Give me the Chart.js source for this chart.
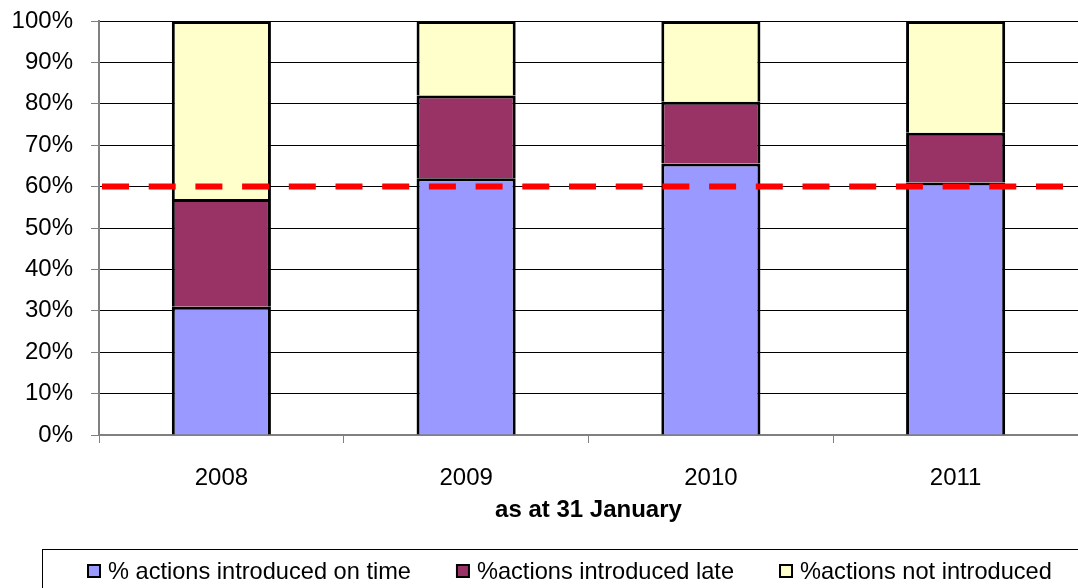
<!DOCTYPE html>
<html>
<head>
<meta charset="utf-8">
<script src="https://cdn.jsdelivr.net/npm/chart.js@4.4.1/dist/chart.umd.min.js"></script>
<style>
    html, body { margin: 0; padding: 0; background: #fff; overflow: hidden; }
    #wrap { width: 1078px; height: 588px; position: relative; }
</style>
</head>
<body>
<div id="wrap"><canvas id="actionsChart"></canvas></div>
<script>
        // data
        const years = ['2008', '2009', '2010', '2011'];
        const onTime = [31, 62, 65.6, 61];
        const lateActions = [26, 20, 14.9, 12];
        const notIntroduced = [43, 18, 19.5, 27];
        const targetValue = 60;
        const yTickStep = 10;

        const FONT = "'Liberation Sans', Arial, sans-serif";

        // red dashed target line across the plot
        const targetLine = {
            id: 'targetLine',
            afterDatasetsDraw(chart) {
                const { ctx, chartArea, scales } = chart;
                const y = scales.y.getPixelForValue(targetValue);
                ctx.save();
                ctx.strokeStyle = '#FF0000';
                ctx.lineWidth = 6;
                ctx.setLineDash([27, 19.7]);
                ctx.beginPath();
                ctx.moveTo(chartArea.left + 3, y);
                ctx.lineTo(chartArea.right, y);
                ctx.stroke();
                ctx.restore();
            }
        };

        // boxed legend like the original
        const boxLegend = {
            id: 'boxLegend',
            afterDraw(chart) {
                const ctx = chart.ctx;
                ctx.save();
                ctx.strokeStyle = '#000';
                ctx.lineWidth = 1;
                ctx.strokeRect(42.5, 549.5, 1100, 100);
                ctx.font = '23.6px ' + FONT;
                ctx.textBaseline = 'middle';
                let x = 88;
                const cy = 571;
                chart.data.datasets.forEach(ds => {
                    ctx.fillStyle = ds.backgroundColor;
                    ctx.fillRect(x, cy - 6, 12, 12);
                    ctx.lineWidth = 2;
                    ctx.strokeStyle = '#000';
                    ctx.strokeRect(x, cy - 6, 12, 12);
                    ctx.fillStyle = '#000';
                    ctx.fillText(ds.label, x + 20, cy + 1);
                    x += 20 + ctx.measureText(ds.label).width + 46;
                });
                ctx.restore();
            }
        };

        const barStyle = {
            borderColor: '#000',
            borderWidth: 3,
            barPercentage: 0.405,
            categoryPercentage: 1
        };

        const ctx = document.getElementById('actionsChart').getContext('2d');
        new Chart(ctx, {
            type: 'bar',
            data: {
                labels: years,
                datasets: [
                    { label: '% actions introduced on time', data: onTime, backgroundColor: '#9999FF', ...barStyle },
                    { label: '%actions introduced late', data: lateActions, backgroundColor: '#993366', ...barStyle },
                    { label: '%actions not introduced', data: notIntroduced, backgroundColor: '#FFFFCC', ...barStyle }
                ]
            },
            options: {
                responsive: true,
                maintainAspectRatio: false,
                devicePixelRatio: 1,
                animation: false,
                layout: { padding: { top: 21, right: 0, left: 0, bottom: 58 } },
                plugins: {
                    legend: { display: false },
                    tooltip: { enabled: false }
                },
                scales: {
                    x: {
                        stacked: true,
                        afterFit: s => { s.height = 95; },
                        grid: { display: true, drawOnChartArea: false, offset: true, tickLength: 8, color: '#808080' },
                        border: { color: '#808080', width: 2 },
                        ticks: { color: '#000', padding: 21, font: { family: FONT, size: 24 } },
                        title: {
                            display: true,
                            text: 'as at 31 January',
                            color: '#000',
                            font: { family: FONT, size: 24, weight: 'bold' },
                            padding: { top: 0, bottom: 5 }
                        }
                    },
                    y: {
                        stacked: true,
                        min: 0,
                        max: 100,
                        afterFit: s => { s.width = 99; s.paddingTop = 0; s.paddingBottom = 0; },
                        grid: { color: '#000', lineWidth: 1, tickLength: 8, tickColor: '#808080' },
                        border: { color: '#808080', width: 2 },
                        ticks: {
                            stepSize: yTickStep,
                            padding: 18,
                            color: '#000',
                            font: { family: FONT, size: 24 },
                            callback: v => v + '%'
                        }
                    }
                }
            },
            plugins: [targetLine, boxLegend]
        });
</script>
</body>
</html>
